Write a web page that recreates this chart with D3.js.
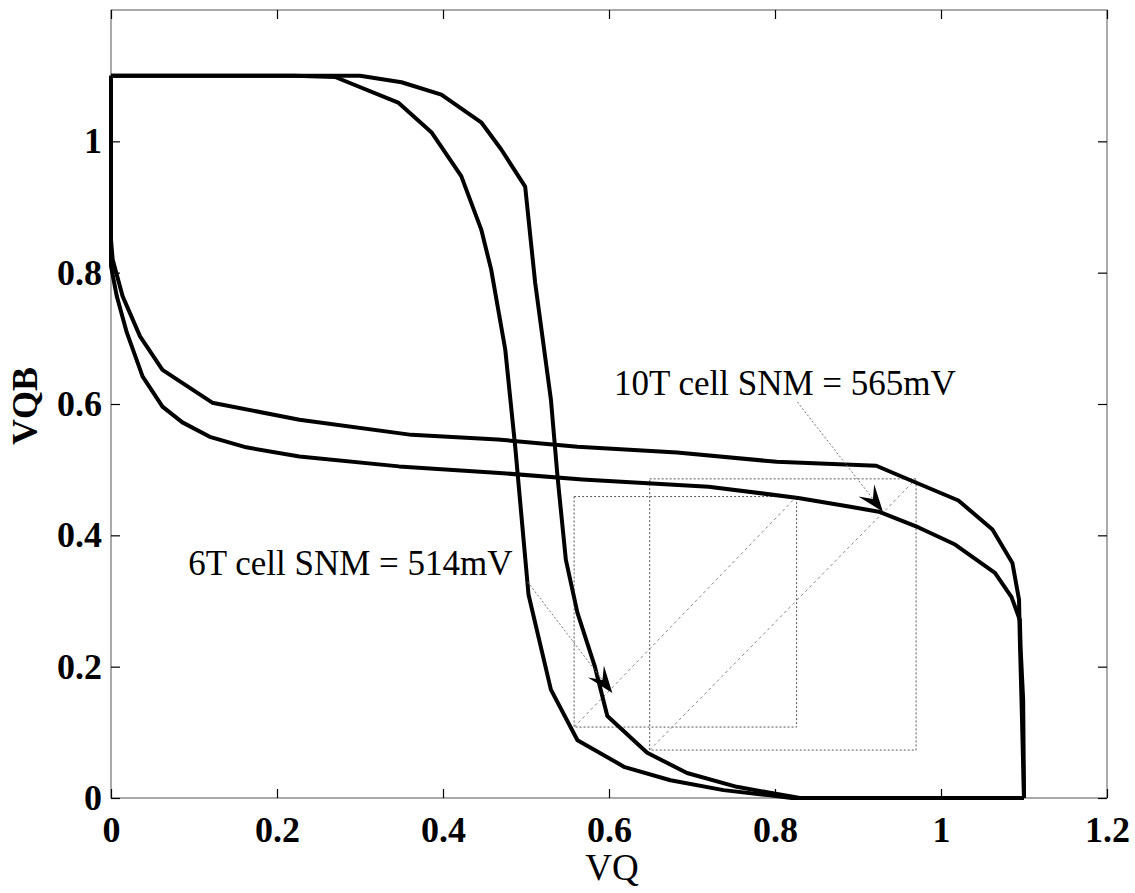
<!DOCTYPE html>
<meta charset="utf-8">
<html>
<head>
<script src="https://d3js.org/d3.v7.min.js"></script>
<style>
  body { margin: 0; background: #fff; }
  text { font-family: "Liberation Serif", "Times New Roman", serif; }
</style>
</head>
<body>
<div id="my_dataviz"></div>
<script>

// butterfly curves (VQ, VQB)
var vtc6T_q = [[0,1.1],[0.22,1.1],[0.27,1.098],[0.346,1.059],[0.386,1.014],[0.422,0.947],[0.446,0.866],
  [0.458,0.805],[0.475,0.683],[0.487,0.535],[0.503,0.31],[0.530,0.165],[0.562,0.088],[0.619,0.047],
  [0.674,0.027],[0.738,0.012],[0.794,0.004],[0.82,0],[1.1,0]];
var vtc10T_q = [[0,1.1],[0.30,1.1],[0.35,1.09],[0.398,1.071],[0.446,1.029],[0.470,0.988],[0.499,0.931],
  [0.511,0.785],[0.530,0.607],[0.538,0.489],[0.548,0.363],[0.562,0.282],[0.583,0.200],[0.598,0.125],
  [0.646,0.069],[0.694,0.038],[0.754,0.017],[0.794,0.008],[0.83,0],[1.1,0]];
var vtc6T_qb = [[0,1.1],[0,0.81],[0.007,0.764],[0.019,0.709],[0.038,0.642],[0.062,0.596],[0.086,0.572],
  [0.119,0.550],[0.163,0.534],[0.227,0.520],[0.347,0.505],[0.468,0.495],[0.568,0.485],[0.72,0.474],
  [0.828,0.457],[0.889,0.444],[0.925,0.436],[0.973,0.412],[1.017,0.386],[1.065,0.343],[1.085,0.306],
  [1.095,0.271],[1.096,0.226],[1.099,0.149],[1.1,0]];
var vtc10T_qb = [[0,1.1],[0,0.85],[0.002,0.82],[0.014,0.764],[0.035,0.703],[0.062,0.652],[0.122,0.602],
  [0.227,0.576],[0.362,0.553],[0.466,0.546],[0.562,0.535],[0.682,0.526],[0.802,0.512],[0.922,0.506],
  [0.961,0.485],[1.021,0.453],[1.062,0.409],[1.086,0.358],[1.094,0.302],[1.095,0.241],[1.097,0.149],[1.1,0]];

// SNM boxes [x0, y0, x1, y1]
var snmBox6T = [0.558, 0.108, 0.826, 0.459];
var snmBox10T = [0.649, 0.073, 0.970, 0.486];

// annotations
var annoText = ["6T cell SNM = 514mV", "10T cell SNM = 565mV"];
var annoTextAt = [[0.093, 0.34], [0.606, 0.613]];
var annoFrom = [[0.502, 0.329], [0.827, 0.603]];
var annoTip = [[0.604, 0.160], [0.930, 0.436]];

var xTicks = [0, 0.2, 0.4, 0.6, 0.8, 1, 1.2];
var xTickLabels = ["0", "0.2", "0.4", "0.6", "0.8", "1", "1.2"];
var yTicks = [0, 0.2, 0.4, 0.6, 0.8, 1];
var yTickLabels = ["0", "0.2", "0.4", "0.6", "0.8", "1"];

var W = 1135, H = 893;
var svg = d3.select("#my_dataviz").append("svg")
  .attr("width", W).attr("height", H);

var x = d3.scaleLinear().domain([0, 1.2]).range([111, 1107]);
var y = d3.scaleLinear().domain([0, 1.2]).range([798, 10]);

// frame
svg.append("rect")
  .attr("x", x(0)).attr("y", y(1.2))
  .attr("width", x(1.2) - x(0)).attr("height", y(0) - y(1.2))
  .attr("fill", "none").attr("stroke", "#555").attr("stroke-width", 1);

// axes, ticks inside on all sides
function styleAxis(g) {
  g.select(".domain").remove();
  g.selectAll(".tick line").attr("stroke", "#000").attr("stroke-width", 1.2);
  g.selectAll(".tick text").attr("fill", "#000")
    .style("font-size", "36px").style("font-weight", "bold");
}
svg.append("g").attr("transform", "translate(0," + y(0) + ")")
  .call(d3.axisBottom(x).tickValues(xTicks).tickSize(-9).tickPadding(18)
    .tickFormat(function(d, i) { return xTickLabels[i]; }))
  .call(styleAxis);
svg.append("g").attr("transform", "translate(0," + y(1.2) + ")")
  .call(d3.axisTop(x).tickValues(xTicks).tickSize(-9).tickFormat(""))
  .call(styleAxis);
svg.append("g").attr("transform", "translate(" + x(0) + ",0)")
  .call(d3.axisLeft(y).tickValues(yTicks).tickSize(-9).tickPadding(9)
    .tickFormat(function(d, i) { return yTickLabels[i]; }))
  .call(styleAxis);
svg.append("g").attr("transform", "translate(" + x(1.2) + ",0)")
  .call(d3.axisRight(y).tickValues(yTicks).tickSize(-9).tickFormat(""))
  .call(styleAxis);

// SNM squares and diagonals
[snmBox6T, snmBox10T].forEach(function(b) {
  svg.append("rect")
    .attr("x", x(b[0])).attr("y", y(b[3]))
    .attr("width", x(b[2]) - x(b[0])).attr("height", y(b[1]) - y(b[3]))
    .attr("fill", "none").attr("stroke", "#555").attr("stroke-width", 1)
    .attr("stroke-dasharray", "2,2");
  svg.append("line")
    .attr("x1", x(b[0])).attr("y1", y(b[1]))
    .attr("x2", x(b[2])).attr("y2", y(b[3]))
    .attr("stroke", "#888").attr("stroke-width", 1).attr("stroke-dasharray", "3,3");
});

// curves
var line = d3.line().x(function(d) { return x(d[0]); }).y(function(d) { return y(d[1]); });
[vtc6T_q, vtc10T_q, vtc6T_qb, vtc10T_qb].forEach(function(c) {
  svg.append("path").datum(c)
    .attr("d", line)
    .attr("fill", "none").attr("stroke", "#000")
    .attr("stroke-width", 4).attr("stroke-linejoin", "round");
});

// annotation arrows and labels
annoText.forEach(function(t, i) {
  var x1 = x(annoFrom[i][0]), y1 = y(annoFrom[i][1]);
  var x2 = x(annoTip[i][0]), y2 = y(annoTip[i][1]);
  var len = Math.hypot(x2 - x1, y2 - y1);
  var ux = (x2 - x1) / len, uy = (y2 - y1) / len;
  var nx = -uy, ny = ux;
  var L = 27, Wd = 10;
  svg.append("line")
    .attr("x1", x1).attr("y1", y1).attr("x2", x2 - ux * 12).attr("y2", y2 - uy * 12)
    .attr("stroke", "#777").attr("stroke-width", 1).attr("stroke-dasharray", "2,2");
  var pts = [
    [x2, y2],
    [x2 - ux * L + nx * Wd, y2 - uy * L + ny * Wd],
    [x2 - ux * L * 0.6, y2 - uy * L * 0.6],
    [x2 - ux * L - nx * Wd, y2 - uy * L - ny * Wd]
  ];
  svg.append("path")
    .attr("d", "M" + pts.map(function(p) { return p.join(","); }).join("L") + "Z")
    .attr("fill", "#000");
  svg.append("text")
    .attr("x", x(annoTextAt[i][0])).attr("y", y(annoTextAt[i][1]))
    .style("font-size", "35px")
    .text(t);
});

// axis titles
svg.append("text")
  .attr("x", 612).attr("y", 880)
  .attr("text-anchor", "middle")
  .style("font-size", "37px")
  .text("VQ");
svg.append("text")
  .attr("transform", "translate(37,406) rotate(-90)")
  .attr("text-anchor", "middle")
  .style("font-size", "36px").style("font-weight", "bold")
  .text("VQB");

</script>
</body>
</html>
